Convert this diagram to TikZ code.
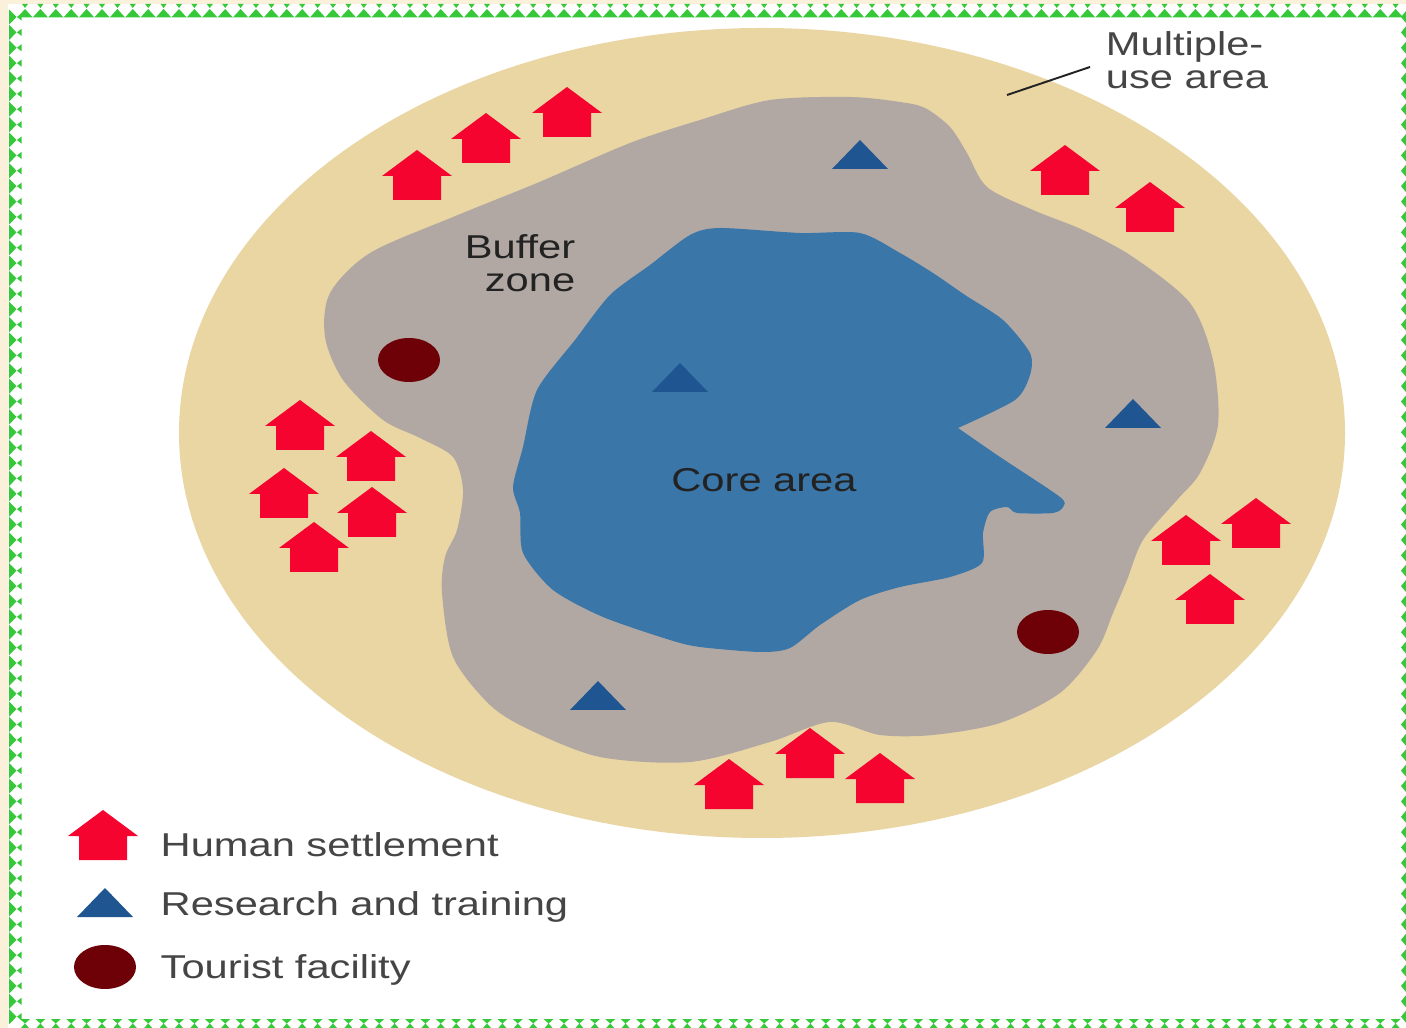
\documentclass[tikz,border=0pt]{standalone}
\usepackage{fontspec}
\setmainfont[FakeStretch=1.26]{Liberation Sans}
\definecolor{cream}{HTML}{FBF0DA}
\definecolor{bordergreen}{HTML}{35C93A}
\definecolor{multi}{HTML}{E9D6A3}
\definecolor{buffer}{HTML}{B1A8A4}
\definecolor{core}{HTML}{3A76A8}
\definecolor{house}{HTML}{F4042F}
\definecolor{tri}{HTML}{1F5590}
\definecolor{facility}{HTML}{6E0008}
\definecolor{ink}{HTML}{454545}
\definecolor{darkink}{HTML}{222222}
\tikzset{
  lab/.style={font=\fontsize{9.4pt}{9.4pt}\selectfont, text=ink, inner sep=0pt},
  zonelab/.style={lab, text=darkink},
  legendlab/.style={lab, anchor=west},
  pics/housemark/.style={code={\fill[house] (0,0)--(35,26)--(24,26)--(24,50)--(-24,50)--(-24,26)--(-35,26)--cycle;}},
  pics/trimark/.style={code={\fill[tri] (0,0)--(28,29)--(-28,29)--cycle;}},
  pics/dotmark/.style={code={\fill[facility] (0,0) ellipse [x radius=31, y radius=22];}},
  bordermark/.style={fill=bordergreen}
}
\begin{document}
\begin{tikzpicture}[x=0.01cm,y=-0.01cm]
\useasboundingbox (0,0) rectangle (1406,1028);
% page and frame
\fill[cream] (0,0) rectangle (1406,1028);
\fill[white] (8,4) rectangle (1406,1028);
\foreach \i in {0,...,90}{
  \pgfmathsetmacro{\xx}{25+15.4*\i}
  \fill[bordermark] (\xx-7.7,17.5)--(\xx,9)--(\xx+7.7,17.5)--cycle;
  \fill[bordermark] (\xx-3,4)--(\xx+3,4)--(\xx,8)--cycle;
  \fill[bordermark] (\xx-5,1019)--(\xx+5,1019)--(\xx,1023.5)--(\xx+4,1028)--(\xx-4,1028)--(\xx,1023.5)--cycle;
}
\foreach \i in {0,...,65}{
  \pgfmathsetmacro{\yy}{17+15.38*\i}
  \fill[bordermark] (9,\yy-7.7)--(16.5,\yy)--(9,\yy+7.7)--cycle;
  \fill[bordermark] (21.5,\yy-3.5)--(21.5,\yy+3.5)--(17,\yy)--cycle;
  \fill[bordermark] (1406,\yy-6)--(1401,\yy)--(1406,\yy+6)--cycle;
}
% zones
\fill[multi] (762,433) ellipse [x radius=583, y radius=405];
\fill[buffer] plot[smooth cycle, tension=0.5] coordinates {
 (850,97)(900,102)(925,108)(950,127)(967,153)(987,187)(1033,210)(1083,230)(1133,257)(1190,303)(1213,360)(1218,425)(1200,473)(1177,500)(1143,540)
 (1127,580)(1113,613)(1097,650)(1060,693)(1000,723)(933,735)(880,735)(830,722)(770,742)(690,762)(600,757)(530,730)(490,705)(453,657)
 (442,593)(445,557)(457,530)(463,490)(453,457)(420,438)(383,420)(343,380)(325,337)(330,293)(370,253)(453,217)(537,183)(630,143)(700,120)(770,100)};
\fill[core] plot[smooth, tension=0.45] coordinates {
 (958,428)(1000,457)(1060,497)(1063,507)(1053,513)(1017,513)(1007,507)(990,512)(983,533)(982,563)(950,577)(900,587)
 (860,600)(820,625)(790,648)(760,652)(700,647)(670,640)(603,617)(553,590)(523,553)(520,513)(513,487)(523,447)(537,390)(575,340)(610,295)(650,265)
 (690,235)(720,228)(800,233)(860,233)(900,253)(933,273)(965,295)(1003,320)(1030,353)(1030,375)(1015,400)(958,428)} -- cycle;
% marks
\foreach \p/\q in {567/87,486/113,417/150,1065/145,1150/182,300/400,371/431,284/468,372/487,314/522,1186/515,1256/498,1210/574,810/728,729/759,880/753,103/810}
  \pic at (\p,\q) {housemark};
\foreach \p/\q in {860/140,680/363,1133/399,598/681,105/888}
  \pic at (\p,\q) {trimark};
\foreach \p/\q in {409/360,1048/632,105/967}
  \pic at (\p,\q) {dotmark};
% labels
\node[lab, align=left] (multilab) at (1187,60) {Multiple-\\use area};
\node[zonelab, align=right] (bufferlab) at (520,263) {Buffer\\zone};
\node[zonelab] (corelab) at (764,480) {Core area};
\node[legendlab] (leg1) at (160,845) {Human settlement};
\node[legendlab] (leg2) at (160,907) {Research and training};
\node[legendlab] (leg3) at (160,970) {Tourist facility};
% leader
\coordinate (leadA) at (1090,67);
\coordinate (leadB) at (1007,95);
\draw[darkink, line width=0.55pt] (leadA) -- (leadB);
\end{tikzpicture}
\end{document}
